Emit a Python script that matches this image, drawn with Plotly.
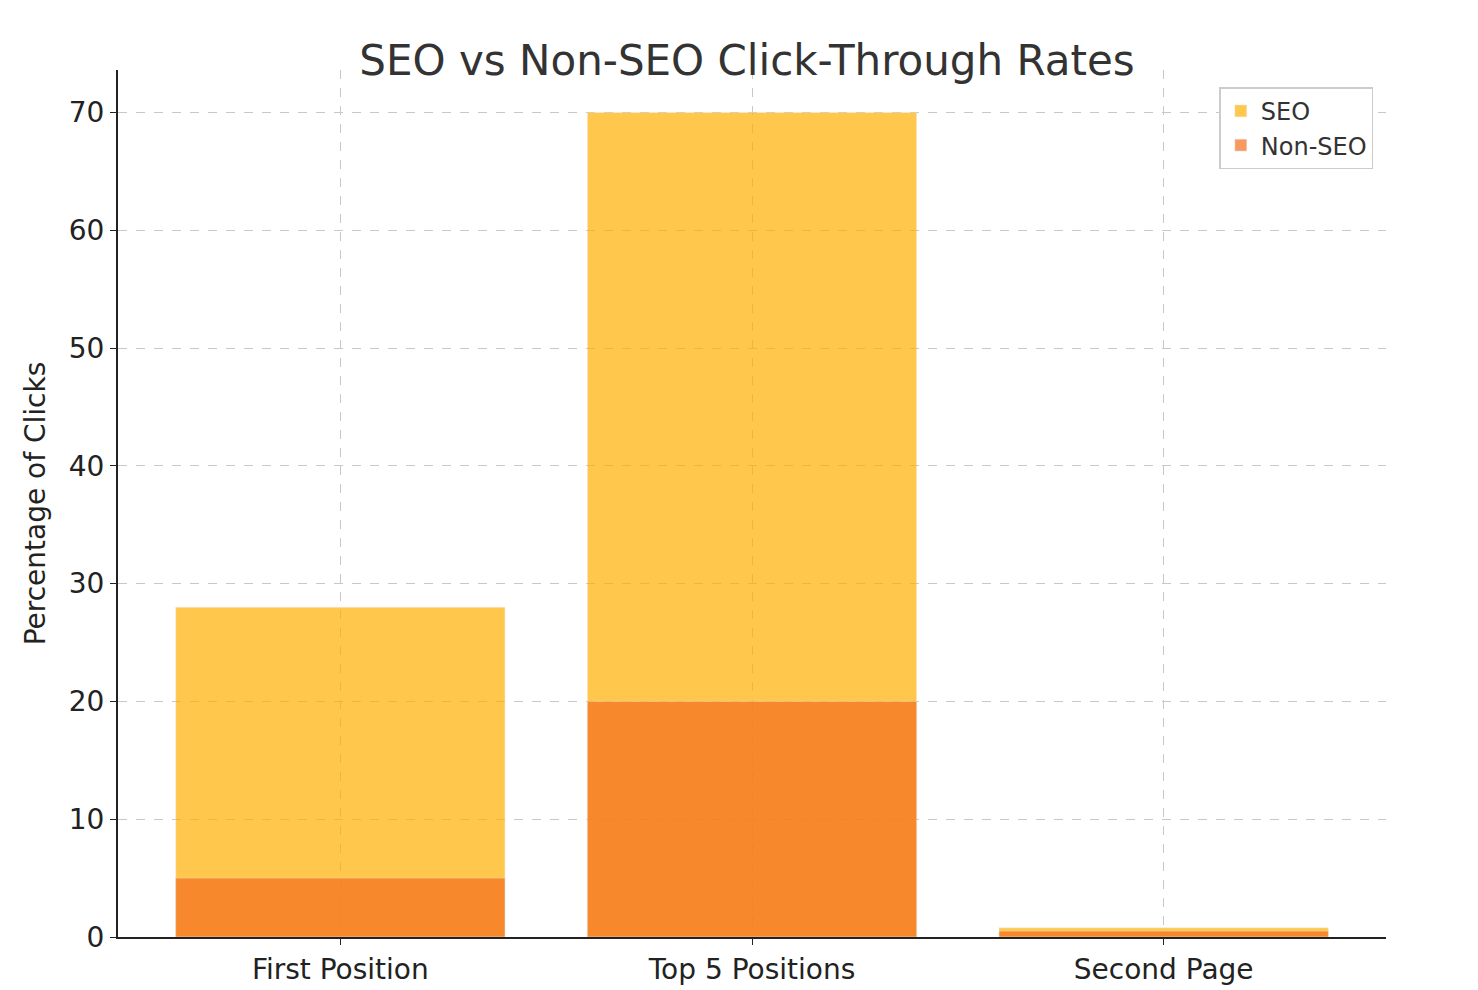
import plotly.graph_objects as go

categories = ["First Position", "Top 5 Positions", "Second Page"]
seo = [28, 70, 0.78]
non_seo = [5, 20, 0.5]

fig = go.Figure()
fig.add_bar(x=categories, y=seo, name="SEO", marker_color="#FFB000", opacity=0.7, width=0.8)
fig.add_bar(x=categories, y=non_seo, name="Non-SEO", marker_color="#F57020", opacity=0.7, width=0.8)

axis_common = dict(showgrid=True, gridcolor="#c8c8c8", griddash="dash", gridwidth=1,
                   showline=True, linecolor="#222", linewidth=2, ticks="outside",
                   tickcolor="#222", ticklen=6, tickfont=dict(size=28, color="#222"), zeroline=False)
fig.update_layout(
    barmode="overlay",
    width=1478, height=990,
    paper_bgcolor="white", plot_bgcolor="white",
    font=dict(family="DejaVu Sans", color="#333"),
    title=dict(text="SEO vs Non-SEO Click-Through Rates", x=0.5, xanchor="center", y=0.962, font=dict(size=42, color="#333")),
    margin=dict(l=110, r=100, t=62, b=50),
    legend=dict(x=0.99, y=0.98, xanchor="right", yanchor="top", bordercolor="#ccc", borderwidth=1.5,
                font=dict(size=24, color="#333"), bgcolor="white"),
    showlegend=True,
)
fig.update_xaxes(range=[-0.54, 2.54], **axis_common)
fig.update_yaxes(range=[0, 73.6], dtick=10, title=dict(text="Percentage of Clicks", font=dict(size=28, color="#222")), **axis_common)
fig.write_html("out.html")
